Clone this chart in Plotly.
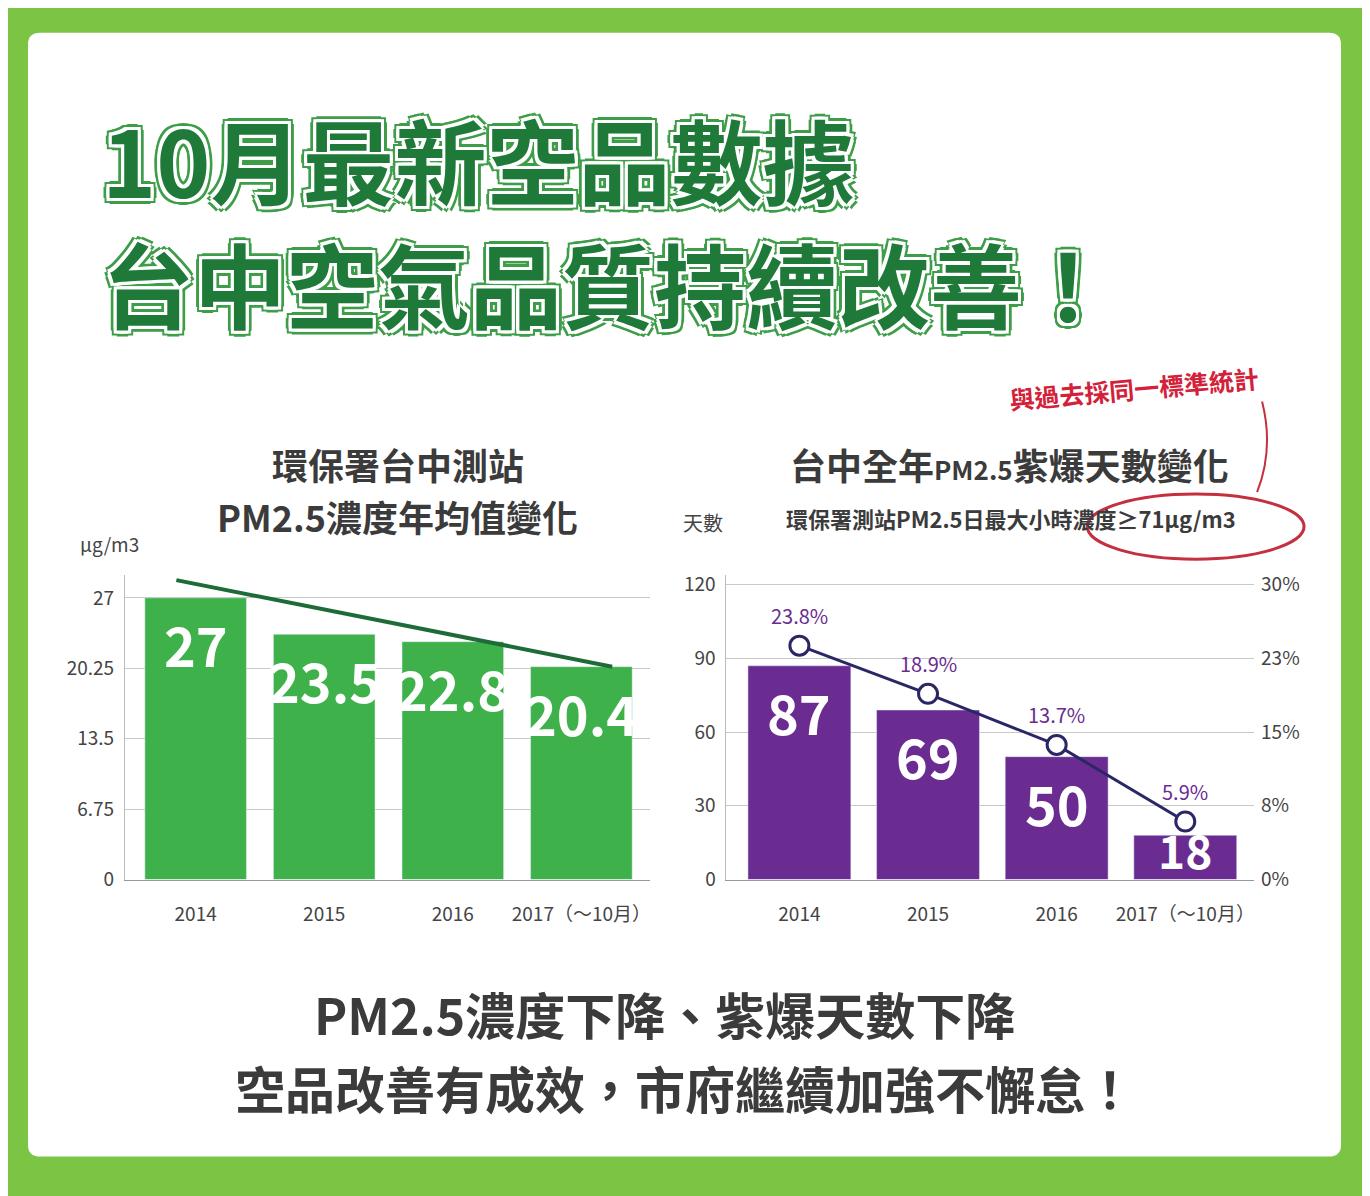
import plotly.graph_objects as go

years = ["2014", "2015", "2016", "2017（～10月）"]
xpos = [0, 1, 2, 3]

pm25 = [27, 23.5, 22.8, 20.4]
pm25_labels = ["27", "23.5", "22.8", "20.4"]
trend_x = [-0.15, 3.24]
trend_y = [28.7, 20.4]
pm25_ticks = [0, 6.75, 13.5, 20.25, 27]
pm25_ticktext = ["0", "6.75", "13.5", "20.25", "27"]

purple_days = [87, 69, 50, 18]
purple_pct = [23.8, 18.9, 13.7, 5.9]
pct_labels = ["23.8%", "18.9%", "13.7%", "5.9%"]
days_ticks = [0, 30, 60, 90, 120]
pct_ticks = [0, 7.5, 15, 22.5, 30]
pct_ticktext = ["0%", "8%", "15%", "23%", "30%"]

W, H = 1370, 1196
OFF = 8  # page body margin
CJK = "Noto Sans CJK TC"
GREEN = "#3fb14a"
PURPLE = "#6a2c91"
NAVY = "#2a2766"
GRID = "#c9c9c9"
TXT = "#3b3b3b"


def px(x):
    return (x - OFF) / W


def py(y):
    return 1 - (y - OFF) / H


fig = go.Figure()

fig.add_trace(go.Bar(x=xpos, y=pm25, width=0.79, marker_color=GREEN,
                     xaxis="x", yaxis="y", showlegend=False))
fig.add_trace(go.Scatter(x=trend_x, y=trend_y, mode="lines", line=dict(color="#1d6b38", width=4),
                         xaxis="x", yaxis="y", showlegend=False))

fig.add_trace(go.Bar(x=xpos, y=purple_days, width=0.8, marker_color=PURPLE,
                     xaxis="x2", yaxis="y2", showlegend=False))
fig.add_trace(go.Scatter(x=xpos, y=purple_pct, mode="lines+markers",
                         line=dict(color=NAVY, width=3),
                         marker=dict(symbol="circle", size=19, color="white", line=dict(color=NAVY, width=3)),
                         xaxis="x2", yaxis="y3", showlegend=False))

ydom = [py(887), py(578)]
tickfont = dict(family=CJK, size=19, color="#444")

annotations = []
for x, v, t in zip(xpos, pm25, pm25_labels):
    annotations.append(dict(x=x, y=v, xref="x", yref="y", text=f"<b>{t}</b>", showarrow=False,
                            yanchor="top", yshift=-4, font=dict(family=CJK, size=54, color="white")))
for x, v in zip(xpos, purple_days):
    if v > 25:
        a = dict(y=v, yanchor="top", yshift=-4, size=54)
    else:
        a = dict(y=0, yanchor="bottom", yshift=-4, size=46)
    annotations.append(dict(x=x, y=a["y"], xref="x2", yref="y2", text=f"<b>{v}</b>", showarrow=False,
                            yanchor=a["yanchor"], yshift=a["yshift"],
                            font=dict(family=CJK, size=a["size"], color="white")))
for x, v, t in zip(xpos, purple_pct, pct_labels):
    annotations.append(dict(x=x, y=v, xref="x2", yref="y3", text=t, showarrow=False, yanchor="bottom", yshift=14,
                            font=dict(family=CJK, size=20, color=PURPLE)))


def txt(x, y, text, size, color=TXT, bold=True, anchor="center", **kw):
    t = f"<b>{text}</b>" if bold else text
    d = dict(x=px(x), y=py(y), xref="paper", yref="paper", text=t, showarrow=False,
             xanchor=anchor, yanchor="middle", font=dict(family=CJK, size=size, color=color))
    d.update(kw)
    annotations.append(d)


outline = ("3px 0 0 #fff, -3px 0 0 #fff, 0 3px 0 #fff, 0 -3px 0 #fff, 3px 3px 0 #fff, -3px -3px 0 #fff, "
           "3px -3px 0 #fff, -3px 3px 0 #fff, 6px 0 0 #3e9d48, -6px 0 0 #3e9d48, 0 6px 0 #3e9d48, "
           "0 -6px 0 #3e9d48, 5px 5px 0 #3e9d48, -5px -5px 0 #3e9d48, 5px -5px 0 #3e9d48, -5px 5px 0 #3e9d48")
txt(100, 155, "10月最新空品數據", 92, color="#1f7a3a", anchor="left")
annotations[-1]["font"]["shadow"] = outline
txt(100, 280, "台中空氣品質持續改善！", 92, color="#1f7a3a", anchor="left")
annotations[-1]["font"]["shadow"] = outline

txt(398, 465, "環保署台中測站", 36)
txt(398, 518, "PM2.5濃度年均值變化", 36)
txt(110, 546, "µg/m3", 19, color="#444", bold=False)
txt(1010, 465, "台中全年<span style='font-size:26px'>PM2.5</span>紫爆天數變化", 36)
txt(1012, 520, "環保署測站PM2.5日最大小時濃度≥71µg/m3", 22)
txt(704, 525, "天數", 20, color="#444", bold=False)
txt(1135, 388, "與過去採同一標準統計", 25, color="#d3213a", textangle=-5)

txt(665, 1022, "PM2.5濃度下降、紫爆天數下降", 50)
txt(685, 1097, "空品改善有成效，市府繼續加強不懈怠！", 50)

shapes = [
    dict(type="path", xref="paper", yref="paper", layer="below",
         path=f"M {px(40)},{py(28)} L {px(1330)},{py(28)} Q {px(1342)},{py(28)} {px(1342)},{py(40)} "
              f"L {px(1342)},{py(1156)} Q {px(1342)},{py(1168)} {px(1330)},{py(1168)} "
              f"L {px(40)},{py(1168)} Q {px(28)},{py(1168)} {px(28)},{py(1156)} "
              f"L {px(28)},{py(40)} Q {px(28)},{py(28)} {px(40)},{py(28)} Z",
         fillcolor="white", line=dict(width=0)),
    dict(type="circle", xref="paper", yref="paper", x0=px(1088), x1=px(1305), y0=py(562), y1=py(496),
         line=dict(color="#c4303f", width=3)),
    dict(type="path", xref="paper", yref="paper",
         path=f"M {px(1263)},{py(402)} Q {px(1275)},{py(450)} {px(1258)},{py(494)}",
         line=dict(color="#c4303f", width=2)),
]

fig.update_layout(
    width=W, height=H, margin=dict(l=0, r=0, t=0, b=0),
    paper_bgcolor="#7cc444", plot_bgcolor="rgba(0,0,0,0)",
    annotations=annotations, shapes=shapes,
    xaxis=dict(domain=[px(125), px(650)], range=[-0.55, 3.53], tickvals=xpos, ticktext=years,
               tickfont=tickfont, showgrid=False, showline=True, linecolor="#999", ticks="", ticklabelstandoff=18),
    yaxis=dict(domain=ydom, range=[0, 29.2], tickvals=pm25_ticks, ticktext=pm25_ticktext, tickfont=tickfont,
               gridcolor=GRID, showline=True, linecolor="#bbb", zeroline=False, ticklabelstandoff=6),
    xaxis2=dict(domain=[px(727), px(1255)], range=[-0.567, 3.535], tickvals=xpos, ticktext=years,
                tickfont=tickfont, showgrid=False, showline=True, linecolor="#999", ticks="",
                anchor="y2", ticklabelstandoff=18),
    yaxis2=dict(domain=ydom, range=[0, 124], tickvals=days_ticks, tickfont=tickfont, anchor="x2",
                gridcolor=GRID, showline=True, linecolor="#bbb", zeroline=False, ticklabelstandoff=6),
    yaxis3=dict(overlaying="y2", side="right", anchor="x2", range=[0, 31], tickvals=pct_ticks,
                ticktext=pct_ticktext, tickfont=tickfont, showgrid=False, zeroline=False, ticklabelstandoff=6),
)

fig.write_html("out.html")
